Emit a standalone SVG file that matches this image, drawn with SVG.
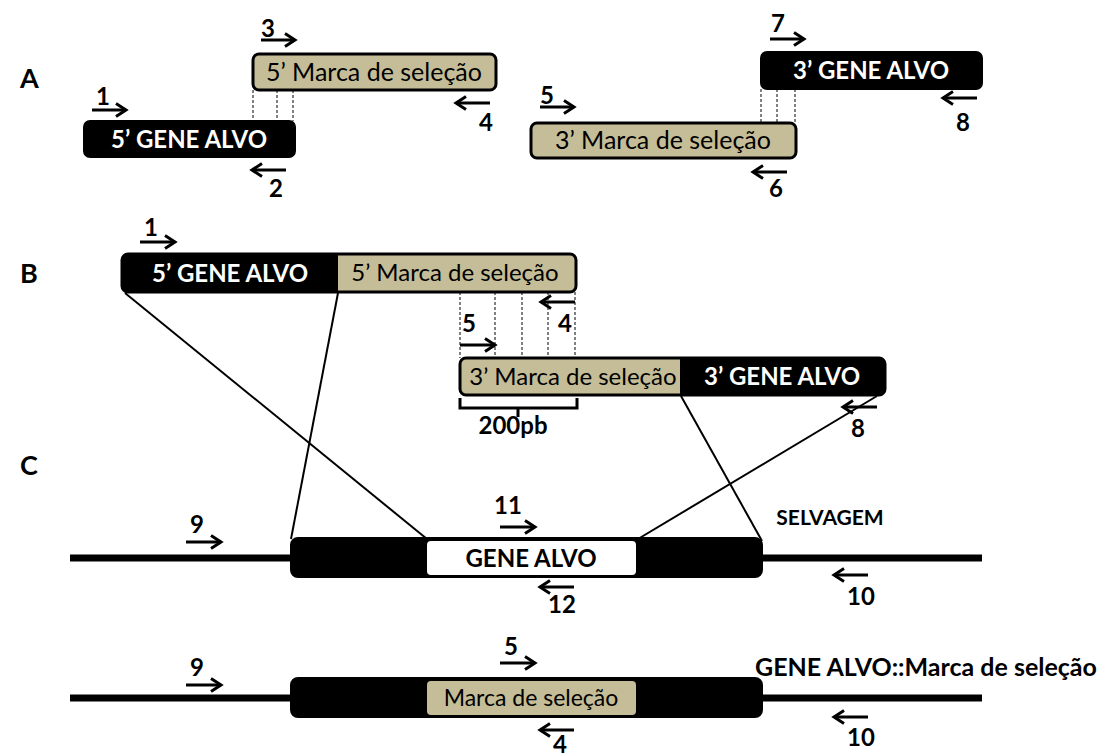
<svg xmlns="http://www.w3.org/2000/svg" width="1107" height="756" viewBox="0 0 1107 756">
<style>
.lbl{font-family:Lato,"Liberation Sans",sans-serif;font-weight:bold;font-size:27px;fill:#000}
.num{font-family:Lato,"Liberation Sans",sans-serif;font-weight:bold;font-size:24px;fill:#000;text-anchor:middle}
.wt{font-family:Lato,"Liberation Sans",sans-serif;font-weight:bold;font-size:24px;fill:#fff;text-anchor:middle}
.bt{font-family:Lato,"Liberation Sans",sans-serif;font-weight:bold;font-size:24px;fill:#000;text-anchor:middle}
.tt{font-family:Lato,"Liberation Sans",sans-serif;font-size:25px;fill:#000;text-anchor:middle}
.tts{font-family:Lato,"Liberation Sans",sans-serif;font-size:24px;fill:#000;text-anchor:middle}
.blk{fill:#000;stroke:#000;stroke-width:2}
.tan{fill:#C4BD97;stroke:#000;stroke-width:3}
.pr{stroke:#000;stroke-width:3;fill:none;marker-end:url(#ah)}
.dash{stroke:#000;stroke-width:1;stroke-dasharray:3,2;fill:none}
.cn{stroke:#000;stroke-width:2;fill:none}
.dna{stroke:#000;stroke-width:7;fill:none}
</style>
<defs>
<marker id="ah" markerWidth="16" markerHeight="16" refX="13" refY="8" orient="auto" markerUnits="userSpaceOnUse">
<path d="M3,1.5 L13,8 L3,14.5" fill="none" stroke="#000" stroke-width="3"/>
</marker>
</defs>
<rect width="1107" height="756" fill="#fff"/>

<text class="lbl" x="20" y="88">A</text>
<text class="lbl" x="20" y="283">B</text>
<text class="lbl" x="20" y="475">C</text>

<!-- Panel A -->
<g id="a-5gene">
<rect class="blk" x="84" y="121" width="211" height="36" rx="6"/>
<text class="wt" x="189" y="148">5’ GENE ALVO</text>
</g>
<g id="a-5marca">
<rect class="tan" x="253" y="54" width="243" height="36" rx="6"/>
<text class="tt" x="374" y="81">5’ Marca de seleção</text>
</g>
<g id="a-3marca">
<rect class="tan" x="531" y="123" width="265" height="35" rx="6"/>
<text class="tt" x="663" y="149">3’ Marca de seleção</text>
</g>
<g id="a-3gene">
<rect class="blk" x="761" y="52" width="221" height="37" rx="6"/>
<text class="wt" x="871" y="79">3’ GENE ALVO</text>
</g>

<!-- Panel B -->
<g id="b-5fusion">
<rect x="122" y="254" width="454" height="38" rx="6" fill="#000"/>
<path d="M338,254 H570 Q576,254 576,260 V286 Q576,292 570,292 H338 Z" fill="#C4BD97"/>
<rect x="122" y="254" width="454" height="38" rx="6" fill="none" stroke="#000" stroke-width="3"/>
<text class="wt" x="230" y="282">5’ GENE ALVO</text>
<text class="tts" x="455" y="281">5’ Marca de seleção</text>
</g>
<g id="b-3fusion">
<rect x="460" y="358" width="425" height="37" rx="6" fill="#000"/>
<path d="M466,358 H680 V395 H466 Q460,395 460,389 V364 Q460,358 466,358 Z" fill="#C4BD97"/>
<rect x="460" y="358" width="425" height="37" rx="6" fill="none" stroke="#000" stroke-width="3"/>
<text class="tts" x="573" y="385">3’ Marca de seleção</text>
<text class="wt" x="782" y="385">3’ GENE ALVO</text>
</g>
<g id="b-bracket">
<path d="M460,398 V408 H577 V398 M518,408 V417" stroke="#000" stroke-width="3" fill="none"/>
<text class="bt" x="513" y="434">200pb</text>
</g>

<!-- Panel C -->
<g id="c-wild">
<line class="dna" x1="70" y1="558" x2="292" y2="558"/>
<line class="dna" x1="760" y1="558" x2="982" y2="558"/>
<rect class="blk" x="291" y="538" width="471" height="39" rx="7"/>
<rect x="427" y="541" width="209" height="34" rx="4" fill="#fff"/>
<text class="bt" x="531" y="567">GENE ALVO</text>
<text class="bt" x="830" y="525" style="font-size:21px">SELVAGEM</text>
</g>
<g id="c-mutant">
<line class="dna" x1="70" y1="698" x2="292" y2="698"/>
<line class="dna" x1="760" y1="698" x2="982" y2="698"/>
<rect class="blk" x="291" y="678" width="471" height="39" rx="7"/>
<rect x="427" y="681" width="209" height="34" rx="4" fill="#C4BD97"/>
<text class="tts" x="531" y="706" style="font-size:23px">Marca de seleção</text>
<text class="bt" x="926" y="676" style="font-size:25px">GENE ALVO::Marca de seleção</text>
</g>

<!-- connectors -->
<g id="connectors">
<line class="dash" x1="253" y1="90" x2="253" y2="121"/>
<line class="dash" x1="277" y1="90" x2="277" y2="121"/>
<line class="dash" x1="293" y1="90" x2="293" y2="121"/>
<line class="dash" x1="761" y1="89" x2="761" y2="123"/>
<line class="dash" x1="777" y1="89" x2="777" y2="123"/>
<line class="dash" x1="795" y1="89" x2="795" y2="123"/>
<line class="dash" x1="460" y1="292" x2="460" y2="358"/>
<line class="dash" x1="495" y1="292" x2="495" y2="358"/>
<line class="dash" x1="522" y1="292" x2="522" y2="358"/>
<line class="dash" x1="548" y1="292" x2="548" y2="358"/>
<line class="dash" x1="575" y1="292" x2="575" y2="358"/>
<line class="cn" x1="125" y1="293" x2="427" y2="539"/>
<line class="cn" x1="338" y1="293" x2="291" y2="539"/>
<line class="cn" x1="681" y1="396" x2="762" y2="541"/>
<line class="cn" x1="877" y1="396" x2="638" y2="539"/>
</g>

<!-- primers -->
<g id="primers">
<line class="pr" x1="92" y1="110" x2="126" y2="110"/><text class="num" x="103" y="105">1</text>
<line class="pr" x1="286" y1="170" x2="252" y2="170"/><text class="num" x="276" y="197">2</text>
<line class="pr" x1="261" y1="40" x2="295" y2="40"/><text class="num" x="268" y="37">3</text>
<line class="pr" x1="490" y1="103" x2="456" y2="103"/><text class="num" x="486" y="131">4</text>
<line class="pr" x1="540" y1="107" x2="574" y2="107"/><text class="num" x="547" y="104">5</text>
<line class="pr" x1="787" y1="172" x2="753" y2="172"/><text class="num" x="776" y="197">6</text>
<line class="pr" x1="770" y1="39" x2="804" y2="39"/><text class="num" x="778" y="32">7</text>
<line class="pr" x1="977" y1="98" x2="943" y2="98"/><text class="num" x="963" y="131">8</text>

<line class="pr" x1="140" y1="242" x2="175" y2="242"/><text class="num" x="151" y="236">1</text>
<line class="pr" x1="575" y1="302" x2="541" y2="302"/><text class="num" x="565" y="332">4</text>
<line class="pr" x1="460" y1="345" x2="495" y2="345"/><text class="num" x="469" y="332">5</text>
<line class="pr" x1="877" y1="407" x2="843" y2="407"/><text class="num" x="858" y="437">8</text>

<line class="pr" x1="186" y1="542" x2="221" y2="542"/><text class="num" x="197" y="533">9</text>
<line class="pr" x1="500" y1="527" x2="535" y2="527"/><text class="num" x="508" y="514">11</text>
<line class="pr" x1="574" y1="587" x2="540" y2="587"/><text class="num" x="562" y="613">12</text>
<line class="pr" x1="868" y1="575" x2="834" y2="575"/><text class="num" x="861" y="605">10</text>

<line class="pr" x1="186" y1="685" x2="221" y2="685"/><text class="num" x="197" y="676">9</text>
<line class="pr" x1="500" y1="663" x2="535" y2="663"/><text class="num" x="511" y="655">5</text>
<line class="pr" x1="574" y1="730" x2="540" y2="730"/><text class="num" x="560" y="753">4</text>
<line class="pr" x1="868" y1="717" x2="834" y2="717"/><text class="num" x="861" y="746">10</text>
</g>
</svg>
